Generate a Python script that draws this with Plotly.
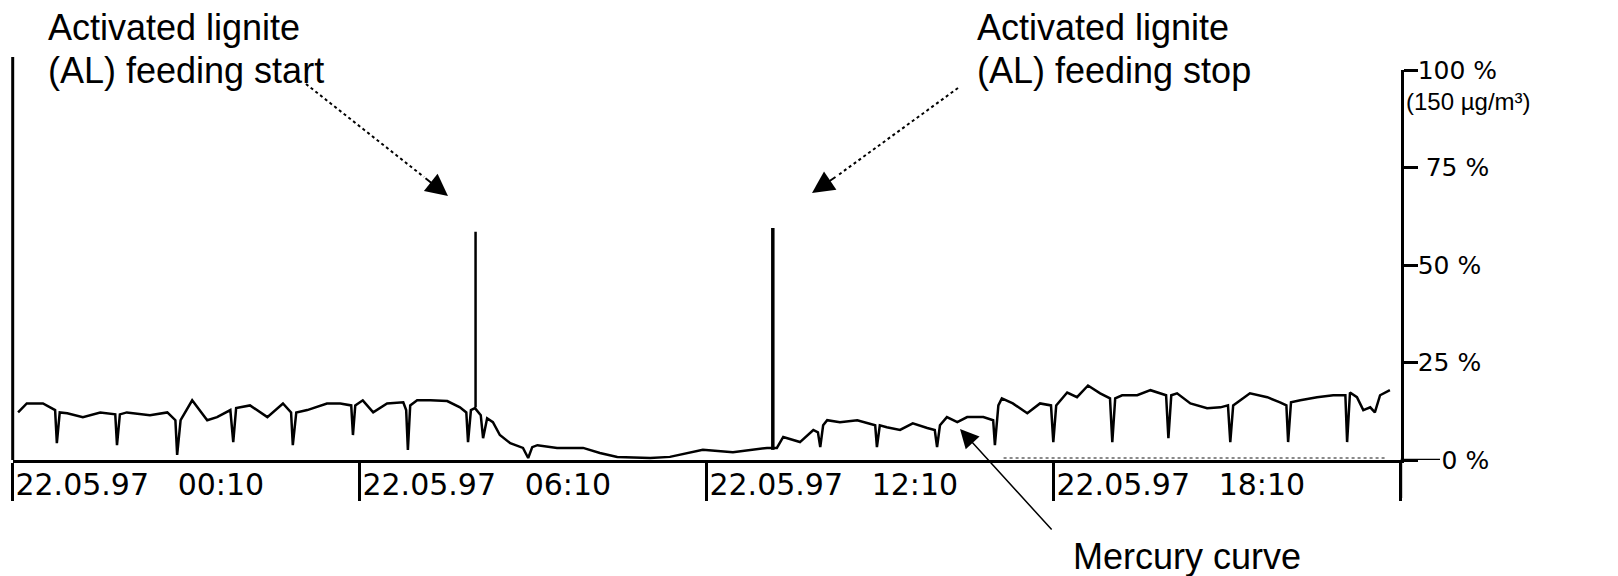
import plotly.graph_objects as go

# ---- data (hours after 22.05.97 00:00, mercury in % of 150 µg/m³) ----
hours = [0.26,0.41,0.69,0.90,0.93,0.98,1.11,1.38,1.68,1.94,1.97,2.02,2.14,2.54,2.84,2.98,3.01,3.07,3.27,3.53,
         3.70,3.93,3.98,4.03,4.27,4.57,4.84,4.98,5.01,5.07,5.26,5.60,5.83,6.02,6.05,6.09,6.22,6.40,6.64,6.92,
         6.97,7.00,7.04,7.16,7.39,7.68,7.90,8.01,8.04,8.09,8.16,8.26,8.30,8.37,8.47,8.59,8.77,8.99,9.08,9.15,
         9.24,9.58,10.03,10.32,10.62,11.19,11.53,11.88,12.10,12.62,13.21,13.38,13.49,13.78,14.01,14.09,14.13,14.18,14.25,14.47,
         14.77,15.08,15.11,15.16,15.28,15.51,15.73,15.98,16.11,16.15,16.20,16.32,16.50,16.67,16.95,17.12,17.15,17.21,17.27,17.46,
         17.71,17.93,18.12,18.16,18.21,18.40,18.57,18.76,18.97,19.14,19.18,19.23,19.35,19.61,19.84,20.11,20.15,20.20,20.30,20.53,
         20.82,21.05,21.18,21.22,21.27,21.56,21.86,22.08,22.19,22.22,22.27,22.43,22.72,23.00,23.21,23.24,23.29,23.41,23.52,23.64,
         23.72,23.81,23.98]
mercury = [12.2,14.5,14.5,12.8,4.3,12.2,12.0,11.0,12.2,11.7,3.8,11.7,12.2,11.5,12.2,10.2,1.3,10.2,15.3,10.2,
           11.0,12.8,4.6,13.3,14.0,11.0,14.5,12.2,3.8,12.2,12.8,14.5,14.5,14.0,6.4,14.0,15.3,12.2,14.5,14.8,
           12.8,2.6,14.0,15.3,15.3,15.1,13.5,12.2,4.6,12.8,13.3,11.5,5.6,10.7,9.7,6.4,4.3,3.1,0.5,3.3,
           3.8,3.1,3.1,1.8,0.8,0.5,0.8,1.8,2.6,2.0,3.1,3.1,5.9,4.6,7.7,7.1,3.3,8.9,10.2,9.7,
           10.2,8.9,3.3,8.9,8.4,7.7,9.4,8.2,7.7,3.3,8.9,11.0,9.7,11.0,11.0,10.2,3.8,14.0,15.8,14.5,
           12.0,14.5,14.0,4.6,14.0,17.3,16.1,19.1,17.1,15.8,4.6,15.8,16.6,16.6,17.9,16.6,5.6,16.6,17.1,14.5,
           13.3,13.5,14.0,4.6,14.0,17.1,16.1,14.8,14.0,4.6,14.8,15.3,16.1,16.6,16.6,4.6,17.3,16.1,12.8,13.5,
           12.2,16.6,17.9]

baseline_hours = [17.3, 23.9]
baseline_values = [0.5, 0.5]

event_hours = [8.17, 13.31]          # AL feeding start / stop
event_top = [58.5, 59.5]
event_bottom = [13.5, 2.6]
event_widths = [2.5, 3.5]

x_tick_vals = [10/60, 6 + 10/60, 12 + 10/60, 18 + 10/60, 24 + 10/60]
x_tick_text = ["22.05.97\u00a0\u00a0\u00a000:10", "22.05.97\u00a0\u00a0\u00a006:10",
               "22.05.97\u00a0\u00a0\u00a012:10", "22.05.97\u00a0\u00a0\u00a018:10", ""]
y_tick_vals = [0, 25, 50, 75, 100]
y_tick_text = ["\u00a0\u00a0\u00a00 %", "25 %", "50 %", "\u00a075 %", "100 %"]

W, H = 1618, 576
def px(x): return x / W
def py(y): return 1 - y / H

fig = go.Figure()
fig.add_trace(go.Scatter(x=baseline_hours, y=baseline_values, mode="lines",
                         line=dict(color="#8a8a8a", width=2, dash="dot"), hoverinfo="skip"))
fig.add_trace(go.Scatter(x=hours, y=mercury, mode="lines",
                         line=dict(color="black", width=2.5), name="Mercury curve"))
for t, top, bot, w in zip(event_hours, event_top, event_bottom, event_widths):
    fig.add_trace(go.Scatter(x=[t, t], y=[bot, top], mode="lines",
                             line=dict(color="black", width=w), hoverinfo="skip"))

font_txt = dict(family="Liberation Sans, Arial, sans-serif", size=36, color="black")
font_x = dict(family="DejaVu Sans, sans-serif", size=30, color="black")
font_y = dict(family="DejaVu Sans, sans-serif", size=25, color="black")

x0_dom, x1_dom = px(12.7), px(1400.7)
y0_dom, y1_dom = py(460), py(70)

fig.update_layout(
    width=W, height=H, margin=dict(l=0, r=0, t=0, b=0, pad=0, autoexpand=False),
    paper_bgcolor="white", plot_bgcolor="white", showlegend=False,
    xaxis=dict(domain=[x0_dom, x1_dom], range=[10/60, 24 + 10/60], automargin=False,
               showgrid=False, zeroline=False, showline=True, linecolor="black", linewidth=3,
               ticks="outside", ticklen=38, tickwidth=2.5, tickcolor="black",
               tickvals=x_tick_vals, ticktext=x_tick_text, tickfont=font_x,
               ticklabelposition="outside right", ticklabelstandoff=-4),
    yaxis=dict(domain=[y0_dom, y1_dom], range=[0, 100], side="right", automargin=False,
               showgrid=False, zeroline=False, showline=True, linecolor="black", linewidth=3,
               ticks="outside", ticklen=14, tickwidth=2.5, tickcolor="black",
               tickvals=y_tick_vals, ticktext=y_tick_text, tickfont=font_y,
               ticklabelstandoff=-5),
)

# left axis line (extends slightly above 100 %), long 0 % tick, right axis extension below
fig.add_shape(type="line", xref="paper", yref="paper", x0=x0_dom, x1=x0_dom,
              y0=y0_dom, y1=py(57), line=dict(color="black", width=3))
fig.add_shape(type="line", xref="paper", yref="y", x0=x1_dom, x1=px(1440),
              y0=0, y1=0, line=dict(color="black", width=2.5))
fig.add_shape(type="line", xref="paper", yref="paper", x0=x1_dom, x1=x1_dom,
              y0=py(498), y1=y0_dom, line=dict(color="black", width=3))

fig.add_annotation(xref="paper", yref="paper", x=px(1404), y=py(101), text="(150 µg/m³)",
                   showarrow=False, xanchor="left", yanchor="middle",
                   font=dict(family="Liberation Sans, sans-serif", size=24, color="black"))

# text annotations
for (x, y, t) in [(46, 27, "Activated lignite"), (46, 70, "(AL) feeding start"),
                  (975, 27, "Activated lignite"), (975, 70, "(AL) feeding stop"),
                  (1071, 556, "Mercury curve")]:
    fig.add_annotation(xref="paper", yref="paper", x=px(x), y=py(y), text=t, showarrow=False,
                       xanchor="left", yanchor="middle", font=font_txt)

# dotted arrows (start / stop)
for (tx, ty, hx, hy, ax, ay) in [(306, 84, 448, 196, -24, -19), (958, 88, 812, 193, 25, -17)]:
    fig.add_shape(type="line", xref="paper", yref="paper", x0=px(tx), y0=py(ty),
                  x1=px(hx + ax), y1=py(hy + ay), line=dict(color="black", width=2, dash="dot"))
    fig.add_annotation(xref="paper", yref="paper", x=px(hx), y=py(hy), text="", showarrow=True,
                       ax=ax, ay=ay, arrowhead=2, arrowsize=2.2, arrowwidth=2, arrowcolor="black")

# mercury curve arrow
fig.add_annotation(xref="paper", yref="paper", x=px(960), y=py(429), text="", showarrow=True,
                   ax=93, ay=102, arrowhead=2, arrowsize=2.5, arrowwidth=1.5, arrowcolor="black")

fig.write_html("out.html")
